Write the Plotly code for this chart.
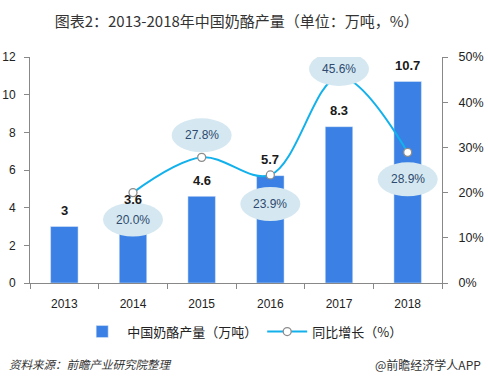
import plotly.graph_objects as go

years = ["2013", "2014", "2015", "2016", "2017", "2018"]
output = [3, 3.6, 4.6, 5.7, 8.3, 10.7]
output_labels = ["3", "3.6", "4.6", "5.7", "8.3", "10.7"]
growth_years = ["2014", "2015", "2016", "2017", "2018"]
growth = [20.0, 27.8, 23.9, 45.6, 28.9]
growth_label_shift = [-27, 22, -29, 8, -27]

FONT = "Liberation Sans, Arial, Noto Sans CJK SC, sans-serif"
CJK = "Noto Sans CJK SC, Liberation Sans, sans-serif"

xs = [int(y) for y in years]
gxs = [int(y) for y in growth_years]

fig = go.Figure()
fig.add_trace(go.Bar(
    x=xs, y=output, name="中国奶酪产量（万吨）",
    marker=dict(color="#3A80E5"), width=0.4, yaxis="y",
))
fig.add_trace(go.Scatter(
    x=gxs, y=growth, name="同比增长（%）", yaxis="y2",
    mode="lines+markers", line=dict(color="#12B1EC", width=2, shape="spline", smoothing=1.0),
    marker=dict(size=8, color="white", line=dict(color="#8C8C8C", width=1.3)),
))

annotations = []
shapes = []
for x, y, lab in zip(xs, output, output_labels):
    annotations.append(dict(x=x, y=y, xref="x", yref="y", text="<b>" + lab + "</b>",
                            showarrow=False, yshift=16, font=dict(size=13, color="#1a1a1a", family=FONT)))
for x, g, dy in zip(gxs, growth, growth_label_shift):
    shapes.append(dict(type="circle", xref="x", yref="y2", xsizemode="pixel", ysizemode="pixel",
                       xanchor=x, yanchor=g, x0=-30, x1=30, y0=dy - 17, y1=dy + 17,
                       fillcolor="#D5E8F1", line=dict(width=0), layer="above"))
    annotations.append(dict(x=x, y=g, xref="x", yref="y2", text="%.1f%%" % g, showarrow=False,
                            yshift=dy, font=dict(size=12, color="#2E4A6E", family=FONT)))

annotations.append(dict(xref="paper", yref="paper", x=-0.055, y=-0.36, xanchor="left", yanchor="middle",
                        text="<i>资料来源：前瞻产业研究院整理</i>", showarrow=False,
                        font=dict(size=11.5, color="#333", family=CJK)))
annotations.append(dict(xref="paper", yref="paper", x=1.1, y=-0.36, xanchor="right", yanchor="middle",
                        text="@前瞻经济学人APP", showarrow=False,
                        font=dict(size=12, color="#333", family=CJK)))

fig.update_layout(
    width=488, height=387, autosize=False,
    margin=dict(l=30, r=46, t=57, b=104, autoexpand=False),
    paper_bgcolor="white", plot_bgcolor="white",
    title=dict(text="图表2：2013-2018年中国奶酪产量（单位：万吨，%）", x=0.485, xanchor="center",
               y=0.945, yanchor="middle", font=dict(size=15, color="#333", family=CJK)),
    font=dict(family=FONT, color="#333", size=12),
    xaxis=dict(range=[xs[0] - 0.5, xs[-1] + 0.5], tickvals=xs, ticktext=years, ticks="",
               showline=True, linecolor="#888", linewidth=1, ticklabelstandoff=10, automargin=False,
               minor=dict(ticks="outside", tick0=xs[0] - 0.5, dtick=1, ticklen=5, tickcolor="#888", showgrid=False),
               tickfont=dict(size=12, color="#222"), showgrid=False, zeroline=False),
    yaxis=dict(range=[0, 12], dtick=2, showline=True, linecolor="#888", ticks="outside",
               ticklen=5, tickcolor="#888", showgrid=False, zeroline=False, ticklabelstandoff=6,
               automargin=False, tickfont=dict(size=12, color="#222")),
    yaxis2=dict(range=[0, 50], dtick=10, overlaying="y", side="right", ticksuffix="%",
                showline=True, linecolor="#888", ticks="outside", ticklen=5, tickcolor="#888",
                ticklabelstandoff=8, automargin=False,
                showgrid=False, zeroline=False, tickfont=dict(size=12.5, color="#222")),
    legend=dict(orientation="h", x=0.515, xanchor="center", y=-0.215, yanchor="middle",
                font=dict(size=13, color="#222", family=CJK), itemwidth=40, traceorder="normal"),
    shapes=shapes, annotations=annotations,
    showlegend=True,
)

fig.write_html("out.html", post_script="document.body.style.margin='0';",
               config={"displayModeBar": False})
